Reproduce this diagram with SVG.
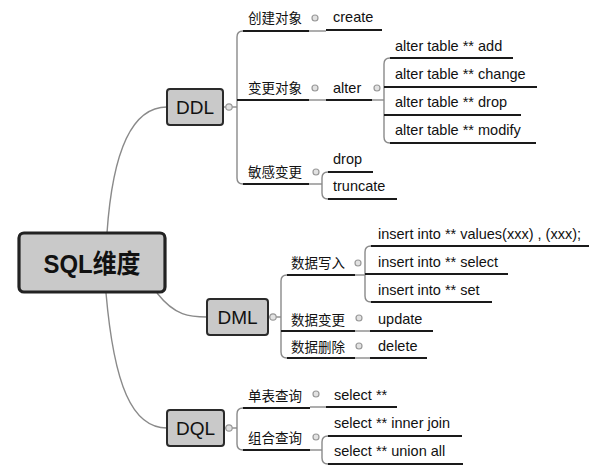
<svg xmlns="http://www.w3.org/2000/svg" width="600" height="473" viewBox="0 0 600 473">
<style>
.bg{fill:#fff}
.box{fill:#c9c9c9;stroke:#2a2a2a;stroke-width:2}
.root{fill:#c9c9c9;stroke:#222;stroke-width:3.2}
.t{font-family:"Liberation Sans","Noto Sans CJK SC",sans-serif;font-size:14.5px;fill:#111}
.c{font-family:"Noto Sans CJK SC","Liberation Sans",sans-serif;font-size:13.5px;fill:#111}
.bt{font-family:"Liberation Sans","Noto Sans CJK SC",sans-serif;font-size:19px;fill:#111;text-anchor:middle}
.rt{font-family:"Liberation Sans","Noto Sans CJK SC",sans-serif;font-size:26px;font-weight:bold;fill:#111;text-anchor:middle}
.u{stroke:#1a1a1a;stroke-width:2;fill:none}
.l{stroke:#8a8a8a;stroke-width:1.4;fill:none}
.k{fill:#e2e2e2;stroke:#999;stroke-width:1.2}
</style>
<rect class="bg" x="0" y="0" width="600" height="473"/>
<g id="connectors">
  <path class="l" d="M107,233 C112,160 128,107 167,107"/>
  <path class="l" d="M157,293 C175,316 190,317 207,317"/>
  <path class="l" d="M106,293 C114,385 132,428 167,428"/>
  <!-- DDL bracket -->
  <path class="l" d="M223,107 H237"/>
  <path class="l" d="M243,31 Q237,31 237,37 V178 Q237,184 243,184"/>
  <circle class="k" cx="229" cy="107" r="3.2"/>
  <path class="l" d="M309,31 H326"/>
  <path class="l" d="M309,100 H326"/>
  <circle class="k" cx="315" cy="18" r="3"/>
  <circle class="k" cx="315" cy="88" r="3"/>
  <circle class="k" cx="316" cy="172" r="3"/>
  <!-- alter bracket -->
  <path class="l" d="M372,100 H384"/>
  <path class="l" d="M390,58 Q384,58 384,64 V137 Q384,143 390,143"/>
  <circle class="k" cx="377" cy="88" r="3"/>
  <!-- 敏感变更 bracket -->
  <path class="l" d="M309,184 H322"/>
  <path class="l" d="M328,172 Q322,172 322,178 V193 Q322,199 328,199"/>
  <!-- DML bracket -->
  <path class="l" d="M268,317 H281"/>
  <path class="l" d="M287,275 Q281,275 281,281 V352 Q281,358 287,358"/>
  <circle class="k" cx="273" cy="317" r="3.2"/>
  <circle class="k" cx="358" cy="263" r="3"/>
  <circle class="k" cx="359" cy="318" r="3"/>
  <circle class="k" cx="359" cy="346" r="3"/>
  <path class="l" d="M355,331 H370"/>
  <path class="l" d="M355,358 H370"/>
  <!-- 数据写入 bracket -->
  <path class="l" d="M355,275 H365"/>
  <path class="l" d="M371,246 Q365,246 365,252 V296 Q365,302 371,302"/>
  <!-- DQL bracket -->
  <path class="l" d="M224,428 H237"/>
  <path class="l" d="M243,408 Q237,408 237,414 V444 Q237,450 243,450"/>
  <circle class="k" cx="229" cy="428" r="3.2"/>
  <circle class="k" cx="316" cy="394" r="3"/>
  <circle class="k" cx="316" cy="437" r="3"/>
  <path class="l" d="M310,407 H326"/>
  <!-- 组合查询 bracket -->
  <path class="l" d="M310,450 H322"/>
  <path class="l" d="M328,436 Q322,436 322,442 V458 Q322,464 328,464"/>
</g>
<g id="root"><rect class="root" x="19" y="233" width="146" height="59" rx="5"/><text class="rt" x="92" y="273" textLength="97" lengthAdjust="spacingAndGlyphs">SQL维度</text></g>
<g id="ddl"><rect class="box" x="167" y="89" width="56" height="36" rx="3"/><text class="bt" x="195" y="114">DDL</text></g>
<g id="dml"><rect class="box" x="207" y="299" width="61" height="36" rx="3"/><text class="bt" x="237.5" y="324">DML</text></g>
<g id="dql"><rect class="box" x="167" y="410" width="57" height="36" rx="3"/><text class="bt" x="195.5" y="435">DQL</text></g>

<g id="create-obj"><text class="c" x="248" y="23">创建对象</text><path class="u" d="M243,31 H309"/></g>
<g id="create"><text class="t" x="333" y="22">create</text><path class="u" d="M326,30 H382"/></g>
<g id="alter-obj"><text class="c" x="248" y="93">变更对象</text><path class="u" d="M237,100 H309"/></g>
<g id="alter"><text class="t" x="333" y="93">alter</text><path class="u" d="M326,100 H372"/></g>
<g id="alter-add"><text class="t" x="395" y="51">alter table ** add</text><path class="u" d="M390,58 H513"/></g>
<g id="alter-change"><text class="t" x="395" y="79">alter table ** change</text><path class="u" d="M384,87 H537"/></g>
<g id="alter-drop"><text class="t" x="395" y="107">alter table ** drop</text><path class="u" d="M384,115 H521"/></g>
<g id="alter-modify"><text class="t" x="395" y="135">alter table ** modify</text><path class="u" d="M390,143 H536"/></g>
<g id="sensitive"><text class="c" x="248" y="177">敏感变更</text><path class="u" d="M243,184 H309"/></g>
<g id="drop"><text class="t" x="333" y="164">drop</text><path class="u" d="M328,172 H373"/></g>
<g id="truncate"><text class="t" x="333" y="191">truncate</text><path class="u" d="M328,199 H397"/></g>

<g id="write"><text class="c" x="291" y="268">数据写入</text><path class="u" d="M287,275 H355"/></g>
<g id="insert-values"><text class="t" x="378" y="239">insert into ** values(xxx) , (xxx);</text><path class="u" d="M371,246 H589"/></g>
<g id="insert-select"><text class="t" x="378" y="267">insert into ** select</text><path class="u" d="M365,274 H508"/></g>
<g id="insert-set"><text class="t" x="378" y="295">insert into ** set</text><path class="u" d="M371,302 H492"/></g>
<g id="change"><text class="c" x="291" y="325">数据变更</text><path class="u" d="M281,331 H355"/></g>
<g id="update"><text class="t" x="378" y="324">update</text><path class="u" d="M370,331 H433"/></g>
<g id="delete-cat"><text class="c" x="291" y="352">数据删除</text><path class="u" d="M287,358 H355"/></g>
<g id="delete"><text class="t" x="378" y="351">delete</text><path class="u" d="M370,358 H427"/></g>

<g id="single"><text class="c" x="248" y="401">单表查询</text><path class="u" d="M243,408 H310"/></g>
<g id="select"><text class="t" x="334" y="400">select **</text><path class="u" d="M326,407 H397"/></g>
<g id="combo"><text class="c" x="248" y="443">组合查询</text><path class="u" d="M243,450 H310"/></g>
<g id="inner-join"><text class="t" x="334" y="428">select ** inner join</text><path class="u" d="M328,436 H462"/></g>
<g id="union-all"><text class="t" x="334" y="456">select ** union all</text><path class="u" d="M328,464 H463"/></g>
</svg>
